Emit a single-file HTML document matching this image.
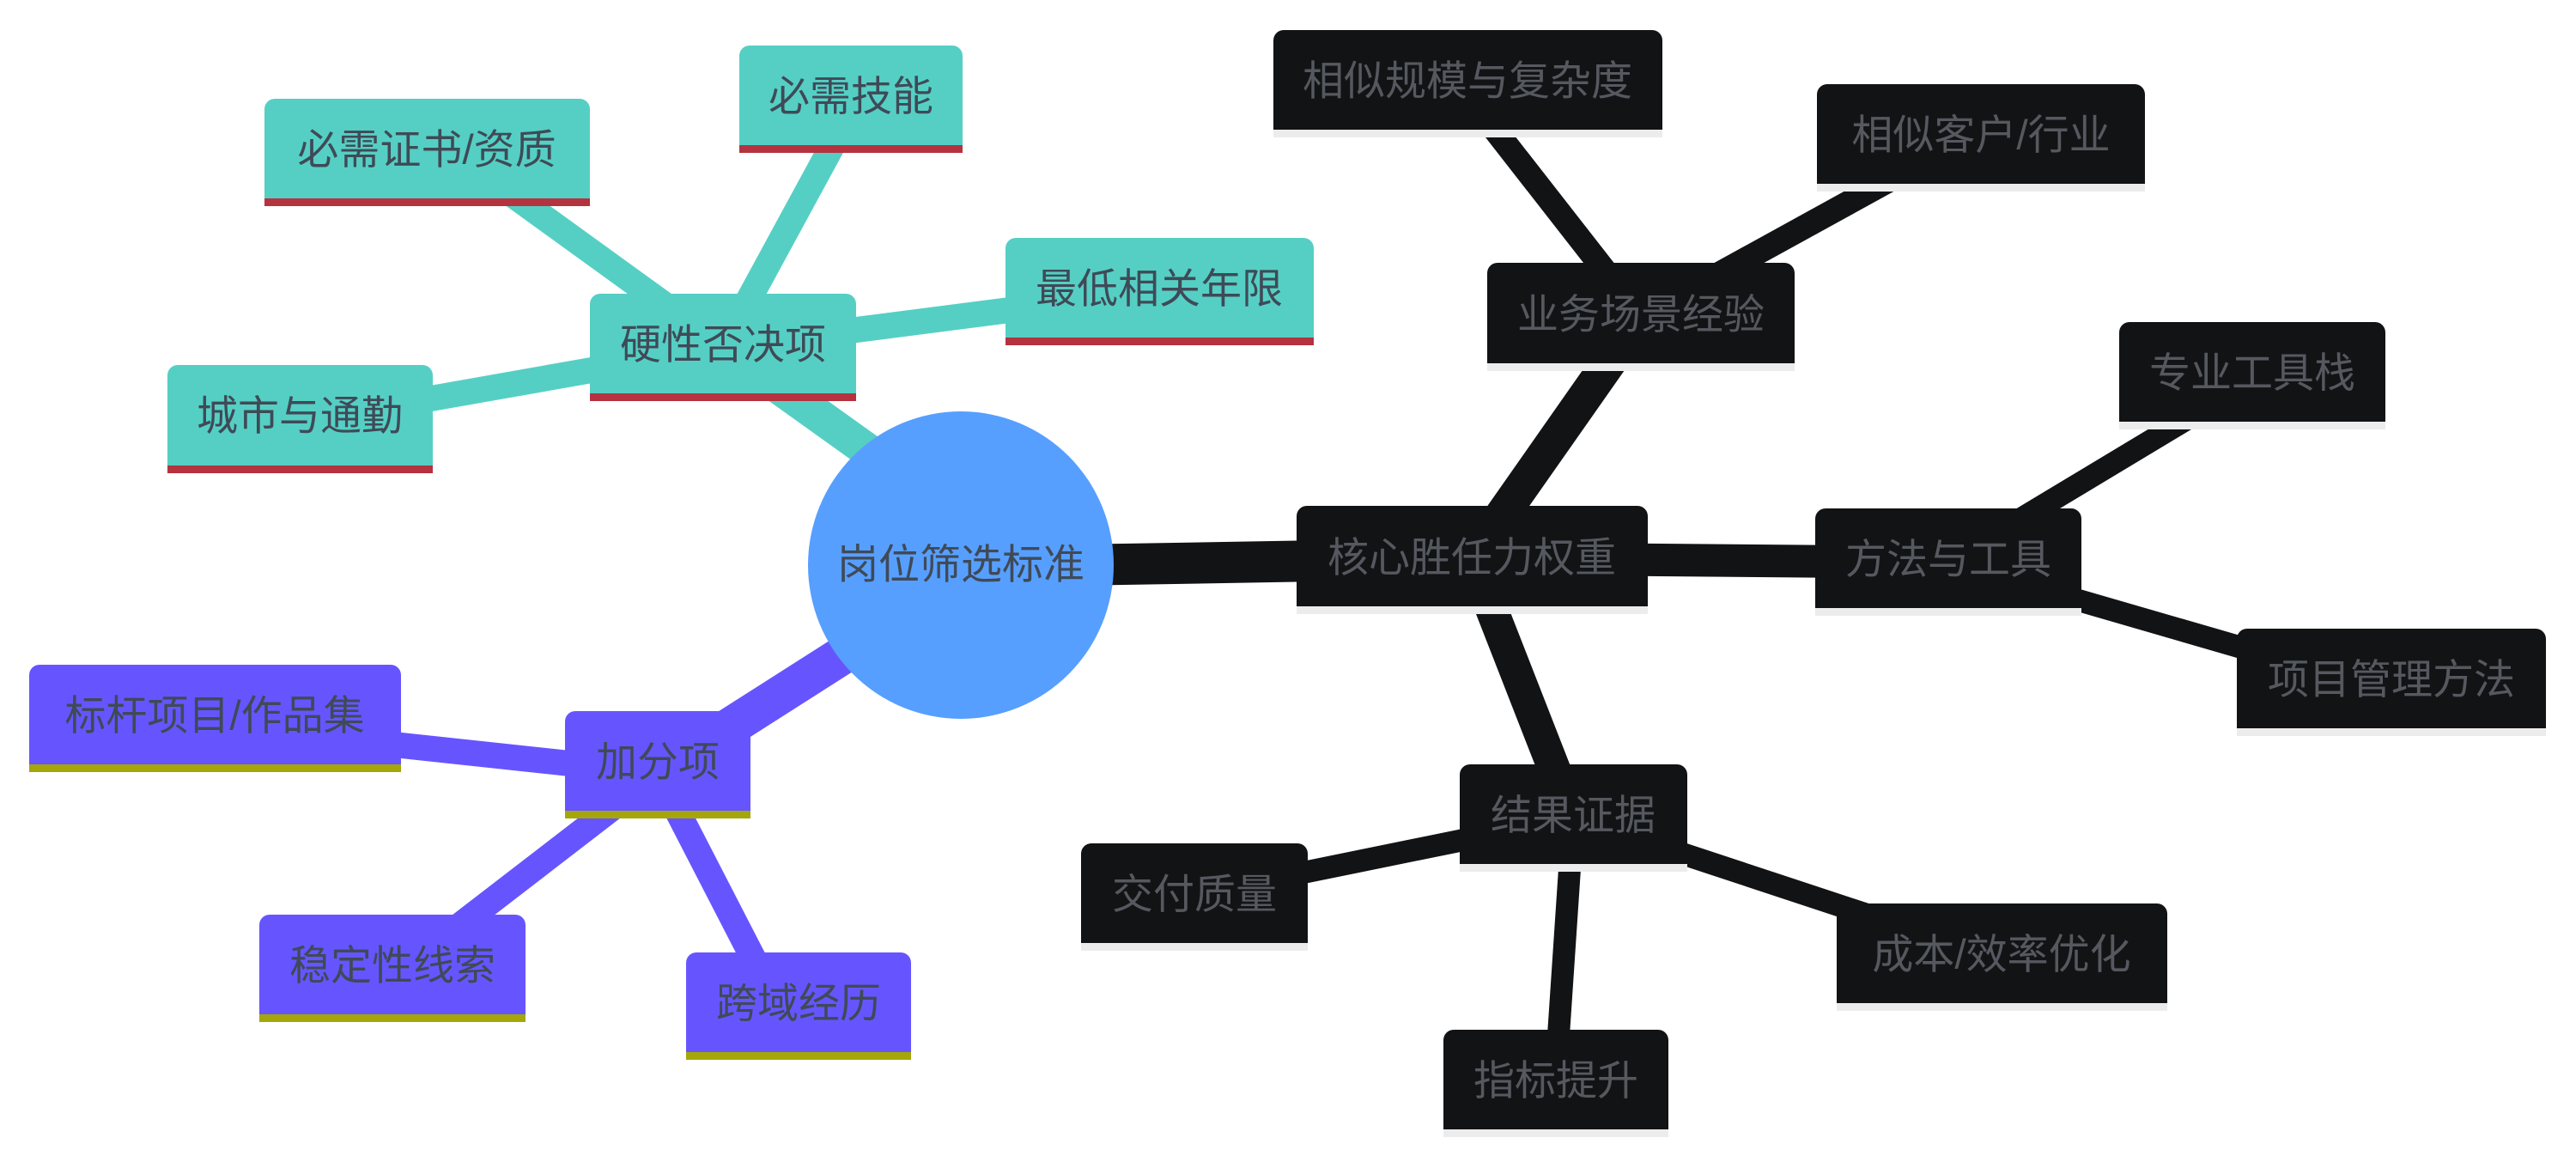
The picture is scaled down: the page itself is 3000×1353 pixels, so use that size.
<!DOCTYPE html>
<html><head><meta charset="utf-8"><style>
html,body{margin:0;padding:0;background:#fff;}
svg{display:block;}
text{font-family:"Liberation Sans","Noto Sans CJK SC",sans-serif;font-size:48px;text-anchor:middle;dominant-baseline:central;}
</style></head><body>
<svg width="3000" height="1353" viewBox="0 0 3000 1353" xmlns="http://www.w3.org/2000/svg">
<g stroke-linecap="butt" fill="none">
<line x1="1060" y1="560" x2="842" y2="404" stroke="#55cfc4" stroke-width="40"/>
<line x1="842" y1="404" x2="560" y2="200" stroke="#55cfc4" stroke-width="30"/>
<line x1="842" y1="404" x2="980" y2="150" stroke="#55cfc4" stroke-width="30"/>
<line x1="842" y1="404" x2="1300" y2="345" stroke="#55cfc4" stroke-width="30"/>
<line x1="842" y1="404" x2="400" y2="482" stroke="#55cfc4" stroke-width="30"/>
<line x1="1080" y1="700" x2="766" y2="900" stroke="#6655ff" stroke-width="45"/>
<line x1="766" y1="900" x2="300" y2="850" stroke="#6655ff" stroke-width="30"/>
<line x1="766" y1="900" x2="470" y2="1128" stroke="#6655ff" stroke-width="30"/>
<line x1="766" y1="900" x2="900" y2="1160" stroke="#6655ff" stroke-width="30"/>
<line x1="1250" y1="658" x2="1714" y2="650" stroke="#121315" stroke-width="48"/>
<line x1="1714" y1="650" x2="1911" y2="369" stroke="#121315" stroke-width="40"/>
<line x1="1911" y1="369" x2="1740" y2="150" stroke="#121315" stroke-width="28"/>
<line x1="1911" y1="369" x2="2200" y2="210" stroke="#121315" stroke-width="28"/>
<line x1="1714" y1="650" x2="2269" y2="655" stroke="#121315" stroke-width="38"/>
<line x1="2269" y1="655" x2="2560" y2="480" stroke="#121315" stroke-width="26"/>
<line x1="2269" y1="655" x2="2700" y2="780" stroke="#121315" stroke-width="26"/>
<line x1="1714" y1="650" x2="1832" y2="952" stroke="#121315" stroke-width="38"/>
<line x1="1832" y1="952" x2="1400" y2="1040" stroke="#121315" stroke-width="26"/>
<line x1="1832" y1="952" x2="2250" y2="1090" stroke="#121315" stroke-width="26"/>
<line x1="1832" y1="952" x2="1812" y2="1250" stroke="#121315" stroke-width="26"/>
</g>
<ellipse cx="1119" cy="658" rx="178" ry="179" fill="#579ffe"/>
<text x="1119" y="658" fill="#3f4a57">岗位筛选标准</text>
<g fill="#55cfc4">
<rect x="308" y="115" width="379" height="125" rx="12"/><rect x="308" y="200" width="379" height="40"/>
<rect x="861" y="53" width="260" height="125" rx="12"/><rect x="861" y="140" width="260" height="38"/>
<rect x="1171" y="277" width="359" height="125" rx="12"/><rect x="1171" y="360" width="359" height="42"/>
<rect x="687" y="342" width="310" height="125" rx="12"/><rect x="687" y="420" width="310" height="47"/>
<rect x="195" y="425" width="309" height="126" rx="12"/><rect x="195" y="500" width="309" height="51"/>
</g>
<g fill="#b5323f">
<rect x="308" y="231" width="379" height="9"/>
<rect x="861" y="169" width="260" height="9"/>
<rect x="1171" y="393" width="359" height="9"/>
<rect x="687" y="458" width="310" height="9"/>
<rect x="195" y="542" width="309" height="9"/>
</g>
<g fill="#6655ff">
<rect x="34" y="774" width="433" height="125" rx="12"/><rect x="34" y="850" width="433" height="49"/>
<rect x="658" y="828" width="216" height="125" rx="12"/><rect x="658" y="900" width="216" height="53"/>
<rect x="302" y="1065" width="310" height="125" rx="12"/><rect x="302" y="1140" width="310" height="50"/>
<rect x="799" y="1109" width="262" height="125" rx="12"/><rect x="799" y="1180" width="262" height="54"/>
</g>
<g fill="#a4a60a">
<rect x="34" y="890" width="433" height="9"/>
<rect x="658" y="944" width="216" height="9"/>
<rect x="302" y="1181" width="310" height="9"/>
<rect x="799" y="1225" width="262" height="9"/>
</g>
<g fill="#121315">
<rect x="1483" y="35" width="453" height="125" rx="12"/><rect x="1483" y="100" width="453" height="60"/>
<rect x="2116" y="98" width="382" height="125" rx="12"/><rect x="2116" y="160" width="382" height="63"/>
<rect x="1732" y="306" width="358" height="126" rx="12"/><rect x="1732" y="370" width="358" height="62"/>
<rect x="2468" y="375" width="310" height="125" rx="12"/><rect x="2468" y="440" width="310" height="60"/>
<rect x="1510" y="589" width="409" height="126" rx="12"/><rect x="1510" y="650" width="409" height="65"/>
<rect x="2114" y="592" width="310" height="125" rx="12"/><rect x="2114" y="650" width="310" height="67"/>
<rect x="2605" y="732" width="360" height="125" rx="12"/><rect x="2605" y="800" width="360" height="57"/>
<rect x="1700" y="890" width="265" height="125" rx="12"/><rect x="1700" y="950" width="265" height="65"/>
<rect x="2139" y="1052" width="385" height="125" rx="12"/><rect x="2139" y="1110" width="385" height="67"/>
<rect x="1681" y="1199" width="262" height="125" rx="12"/><rect x="1681" y="1260" width="262" height="64"/>
<rect x="1259" y="982" width="264" height="125" rx="12"/><rect x="1259" y="1040" width="264" height="67"/>
</g>
<g fill="#ececec">
<rect x="1483" y="151" width="453" height="9"/>
<rect x="2116" y="214" width="382" height="9"/>
<rect x="1732" y="423" width="358" height="9"/>
<rect x="2468" y="491" width="310" height="9"/>
<rect x="1510" y="706" width="409" height="9"/>
<rect x="2114" y="708" width="310" height="9"/>
<rect x="2605" y="848" width="360" height="9"/>
<rect x="1700" y="1006" width="265" height="9"/>
<rect x="2139" y="1168" width="385" height="9"/>
<rect x="1681" y="1315" width="262" height="9"/>
<rect x="1259" y="1098" width="264" height="9"/>
</g>
<g fill="#3f4a57">
<text x="497" y="175">必需证书/资质</text>
<text x="991" y="113">必需技能</text>
<text x="1350" y="337">最低相关年限</text>
<text x="842" y="402">硬性否决项</text>
<text x="349" y="485">城市与通勤</text>
<text x="250" y="834">标杆项目/作品集</text>
<text x="766" y="888">加分项</text>
<text x="457" y="1125">稳定性线索</text>
<text x="930" y="1169">跨域经历</text>
</g>
<g fill="#55595f">
<text x="1709" y="95">相似规模与复杂度</text>
<text x="2307" y="158">相似客户/行业</text>
<text x="1911" y="367">业务场景经验</text>
<text x="2623" y="435">专业工具栈</text>
<text x="1714" y="650">核心胜任力权重</text>
<text x="2269" y="652">方法与工具</text>
<text x="2785" y="792">项目管理方法</text>
<text x="1832" y="950">结果证据</text>
<text x="2331" y="1112">成本/效率优化</text>
<text x="1812" y="1259">指标提升</text>
<text x="1391" y="1042">交付质量</text>
</g>
</svg>
</body></html>
